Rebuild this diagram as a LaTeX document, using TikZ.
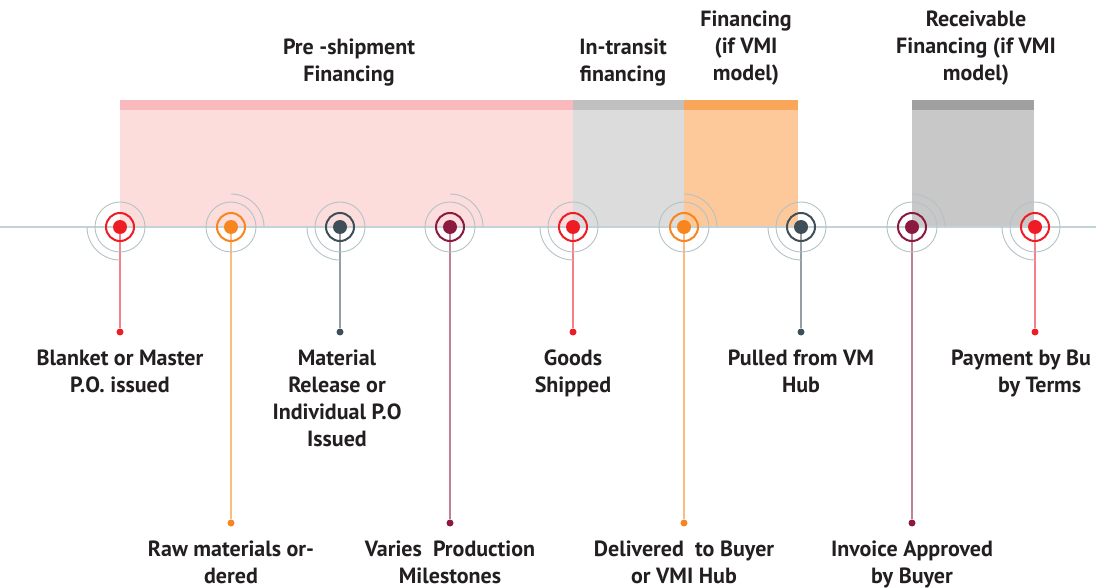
\documentclass[tikz,border=0pt]{standalone}
\usepackage{fontspec}
\setmainfont{PT Sans}
\usetikzlibrary{positioning}

\definecolor{cred}{HTML}{EE1C25}
\definecolor{corange}{HTML}{F7861E}
\definecolor{cslate}{HTML}{3E4F59}
\definecolor{cmaroon}{HTML}{8C1A40}
\definecolor{txt}{HTML}{231F20}
\definecolor{haloc}{HTML}{B3C2C7}
\definecolor{linec}{HTML}{C3D3D8}
\definecolor{pinkstrip}{HTML}{F9B9BD}
\definecolor{pinkfill}{HTML}{FDDCDC}
\definecolor{graystrip}{HTML}{C0C0C0}
\definecolor{grayfill}{HTML}{DCDCDC}
\definecolor{orstrip}{HTML}{F9A65A}
\definecolor{orfill}{HTML}{FDC99B}
\definecolor{dgstrip}{HTML}{A0A0A0}
\definecolor{dgfill}{HTML}{C8C8C8}

\tikzset{
	marker/.style={circle, draw=#1, line width=2pt, minimum size=28pt, inner sep=0pt,
		path picture={\fill[#1] (path picture bounding box.center) circle (7pt);}},
	halo/.style={draw=haloc, line width=0.9pt},
	stem/.style={draw=#1!55, line width=1.2pt},
	enddot/.style={circle, fill=#1, inner sep=0pt, minimum size=7pt},
	lbl/.style={align=center, inner sep=0pt, text=txt, font=\fontsize{22}{27}\selectfont\bfseries},
	node distance=14pt
}

\begin{document}
\begin{tikzpicture}[x=1pt,y=-1pt]
		\useasboundingbox (0,0) rectangle (1096,588);
		\clip (0,0) rectangle (1096,588);

		% financing bands
		\fill[pinkfill] (120,110) rectangle (573,227);
		\fill[pinkstrip] (120,100) rectangle (573,110);
		\fill[grayfill] (573,110) rectangle (684,227);
		\fill[graystrip] (573,100) rectangle (684,110);
		\fill[orfill] (684,110) rectangle (798,227);
		\fill[orstrip] (684,100) rectangle (798,110);
		\fill[dgfill] (912,110) rectangle (1034,227);
		\fill[dgstrip] (912,100) rectangle (1034,110);

		\node[lbl, anchor=north] (t1) at (349,39) {Pre -shipment\\Financing};
		\node[lbl, anchor=north] (t2) at (623,39) {In-transit\\financing};
		\node[lbl, anchor=north] (t3) at (746,11) {Financing\\(if VMI\\model)};
		\node[lbl, anchor=north] (t4) at (976,11) {Receivable\\Financing (if VMI\\model)};

		% timeline
		\coordinate (tl) at (0,227);
		\coordinate (tr) at (1096,227);
		\draw[linec, line width=1.2pt] (tl) -- (tr);

		% milestones
		\coordinate (m1) at (120,227);
		\coordinate (m2) at (231,227);
		\coordinate (m3) at (340,227);
		\coordinate (m4) at (450,227);
		\coordinate (m5) at (573,227);
		\coordinate (m6) at (684,227);
		\coordinate (m7) at (801,227);
		\coordinate (m8) at (912,227);
		\coordinate (m9) at (1035,227);

		\node[enddot=cred] (d1) at (120,332) {};
		\node[enddot=corange] (d2) at (231,523) {};
		\node[enddot=cslate] (d3) at (340,332) {};
		\node[enddot=cmaroon] (d4) at (450,523) {};
		\node[enddot=cred] (d5) at (573,332) {};
		\node[enddot=corange] (d6) at (684,523) {};
		\node[enddot=cslate] (d7) at (801,332) {};
		\node[enddot=cmaroon] (d8) at (912,523) {};
		\node[enddot=cred] (d9) at (1035,332) {};

		\draw[stem=cred] (m1) -- (d1);
		\draw[stem=corange] (m2) -- (d2);
		\draw[stem=cslate] (m3) -- (d3);
		\draw[stem=cmaroon] (m4) -- (d4);
		\draw[stem=cred] (m5) -- (d5);
		\draw[stem=corange] (m6) -- (d6);
		\draw[stem=cslate] (m7) -- (d7);
		\draw[stem=cmaroon] (m8) -- (d8);
		\draw[stem=cred] (m9) -- (d9);

		\draw[halo] (m1) circle (25pt) ([shift={(180:33pt)}]m1) arc (180:270:33pt);
		\draw[halo] (m2) circle (25pt) ([shift={(0:33pt)}]m2) arc (0:90:33pt);
		\draw[halo] (m3) circle (25pt) ([shift={(180:33pt)}]m3) arc (180:270:33pt);
		\draw[halo] (m4) circle (25pt) ([shift={(0:33pt)}]m4) arc (0:90:33pt);
		\draw[halo] (m5) circle (25pt) ([shift={(180:33pt)}]m5) arc (180:270:33pt);
		\draw[halo] (m6) circle (25pt) ([shift={(0:33pt)}]m6) arc (0:90:33pt);
		\draw[halo] (m7) circle (25pt) ([shift={(180:33pt)}]m7) arc (180:270:33pt);
		\draw[halo] (m8) circle (25pt) ([shift={(0:33pt)}]m8) arc (0:90:33pt);
		\draw[halo] (m9) circle (25pt) ([shift={(180:33pt)}]m9) arc (180:270:33pt);

		\node[marker=cred] at (m1) {};
		\node[marker=corange] at (m2) {};
		\node[marker=cslate] at (m3) {};
		\node[marker=cmaroon] at (m4) {};
		\node[marker=cred] at (m5) {};
		\node[marker=corange] at (m6) {};
		\node[marker=cslate] at (m7) {};
		\node[marker=cmaroon] at (m8) {};
		\node[marker=cred] at (m9) {};

		% milestone labels
		\node[lbl, below=of d1] (l1) {Blanket or Master\\P.O. issued};
		\node[lbl, below=of d2] (l2) {Raw materials or-\\dered};
		\node[lbl, below=of d3, xshift=-3pt] (l3) {Material\\Release or\\Individual P.O\\Issued};
		\node[lbl, below=of d4] (l4) {Varies\ \ Production\\Milestones};
		\node[lbl, below=of d5] (l5) {Goods\\Shipped};
		\node[lbl, below=of d6] (l6) {Delivered\ \ to Buyer\\or VMI Hub};
		\node[lbl, below=of d7] (l7) {Pulled from VM\\Hub};
		\node[lbl, below=of d8] (l8) {Invoice Approved\\by Buyer};
		\node[lbl, align=left, below=of d9, xshift=-14pt] (l9) {Payment by Bu\\\hspace*{47pt}by Terms};
	\end{tikzpicture}
\end{document}
